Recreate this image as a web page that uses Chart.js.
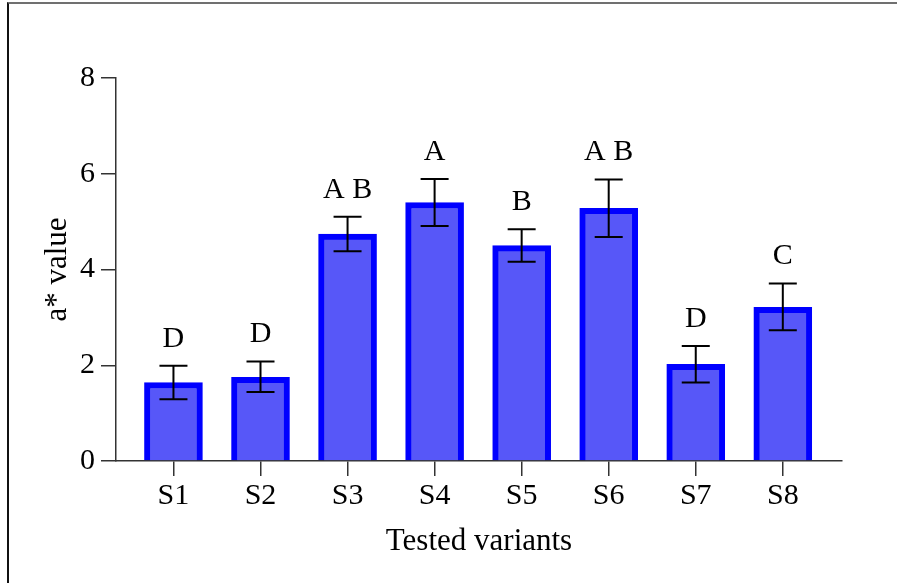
<!DOCTYPE html>
<html>
<head>
<meta charset="utf-8">
<script src="https://cdn.jsdelivr.net/npm/chart.js@4.4.1/dist/chart.umd.min.js"></script>
<style>
  html, body { margin: 0; padding: 0; background: #fff; }
  #wrap { position: relative; width: 897px; height: 583px; overflow: hidden; }
  #frame { position: absolute; left: 7px; top: 2px; width: 900px; height: 600px;
           border-top: 2px solid #707070; border-left: 2px solid #111; }
  canvas { position: absolute; left: 0; top: 0; }
</style>
</head>
<body>
<div id="wrap">
  <div id="frame"></div>
  <canvas id="chart" width="897" height="583"></canvas>
</div>
<script>
// --- data ---
const variants = ['S1', 'S2', 'S3', 'S4', 'S5', 'S6', 'S7', 'S8'];
const meanValues = [1.64, 1.75, 4.74, 5.40, 4.50, 5.28, 2.02, 3.21];
const errLow = [1.29, 1.44, 4.38, 4.91, 4.16, 4.68, 1.64, 2.73];
const errHigh = [1.99, 2.08, 5.10, 5.89, 4.84, 5.88, 2.40, 3.71];
const groupLetters = ['D', 'D', 'A B', 'A', 'B', 'A B', 'D', 'C'];
const yTicks = [0, 2, 4, 6, 8];

const FONT = "'Liberation Serif', 'Times New Roman', serif";
const AXIS_COLOR = '#333';

// error bars + letters drawn on top of bars
const errorBarPlugin = {
    id: 'errorBars',
    afterDatasetsDraw(chart) {
        const ctx = chart.ctx;
        const xs = chart.scales.x;
        const ys = chart.scales.y;
        ctx.save();
        ctx.strokeStyle = '#000';
        ctx.lineWidth = 2;
        ctx.fillStyle = '#000';
        ctx.font = '30px ' + FONT;
        ctx.textAlign = 'center';
        ctx.textBaseline = 'alphabetic';
        variants.forEach((v, i) => {
            const x = xs.getPixelForValue(i + 1);
            const yLo = ys.getPixelForValue(errLow[i]);
            const yHi = ys.getPixelForValue(errHigh[i]);
            ctx.beginPath();
            ctx.moveTo(x, yLo); ctx.lineTo(x, yHi);
            ctx.moveTo(x - 14, yLo); ctx.lineTo(x + 14, yLo);
            ctx.moveTo(x - 14, yHi); ctx.lineTo(x + 14, yHi);
            ctx.stroke();
            ctx.fillText(groupLetters[i], x, yHi - 19);
        });
        ctx.restore();
    }
};

const ctx = document.getElementById('chart').getContext('2d');
new Chart(ctx, {
    type: 'bar',
    data: {
        datasets: [{
            data: meanValues.map((m, i) => ({ x: i + 1, y: m })),
            backgroundColor: '#5757f8',
            borderColor: '#0000ff',
            borderWidth: 6,
            borderSkipped: 'start',
            barThickness: 58
        }]
    },
    options: {
        responsive: false,
        animation: false,
        layout: { padding: { top: 78, right: 55, bottom: 0, left: 0 } },
        plugins: { legend: { display: false }, tooltip: { enabled: false } },
        scales: {
            x: {
                type: 'linear',
                offset: false,
                min: 0.34,
                max: 8.68,
                afterBuildTicks: s => { s.ticks = variants.map((v, i) => ({ value: i + 1 })); },
                afterFit: s => { s.height = 122; },
                grid: { offset: false, drawOnChartArea: false, tickLength: 15, color: AXIS_COLOR, lineWidth: 1.5 },
                border: { color: AXIS_COLOR, width: 1.5 },
                ticks: {
                    padding: 2,
                    color: '#000',
                    font: { family: FONT, size: 30 },
                    callback: value => variants[value - 1] || ''
                },
                title: {
                    display: true,
                    text: 'Tested variants',
                    color: '#000',
                    font: { family: FONT, size: 31 },
                    padding: { top: 0, bottom: 23 }
                }
            },
            y: {
                min: 0,
                max: 8,
                afterBuildTicks: s => { s.ticks = yTicks.map(v => ({ value: v })); },
                afterFit: s => { s.width = 116; },
                grid: { drawOnChartArea: false, tickLength: 15, color: AXIS_COLOR, lineWidth: 1.5 },
                border: { color: AXIS_COLOR, width: 1.5 },
                ticks: {
                    padding: 6,
                    color: '#000',
                    font: { family: FONT, size: 30 }
                },
                title: {
                    display: true,
                    text: 'a* value',
                    color: '#000',
                    font: { family: FONT, size: 31 },
                    padding: { top: 39, bottom: 0 }
                }
            }
        }
    },
    plugins: [errorBarPlugin]
});
</script>
</body>
</html>
